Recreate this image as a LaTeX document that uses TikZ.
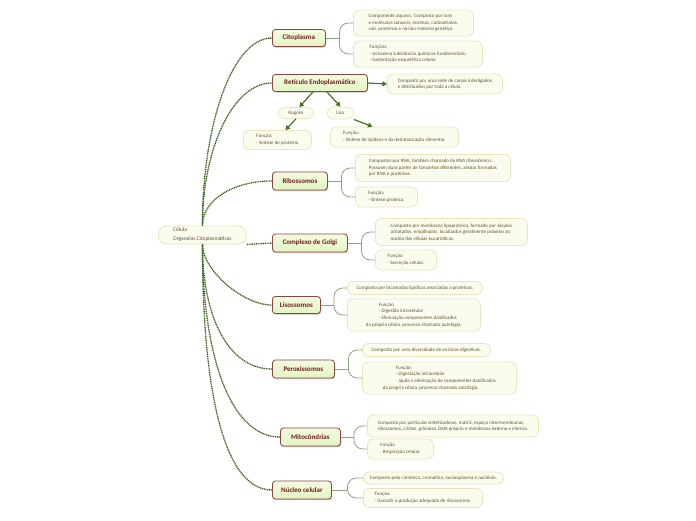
\documentclass[tikz,border=0pt]{standalone}
\usepackage{fontspec}
\setmainfont{Carlito}
\usetikzlibrary{positioning, calc, shadows, arrows.meta}
\definecolor{orgborder}{RGB}{140, 70, 70}
\definecolor{orgtext}{RGB}{115, 28, 28}
\definecolor{orgtop}{RGB}{244, 252, 224}
\definecolor{orgbot}{RGB}{226, 244, 196}
\definecolor{orgshadow}{RGB}{190, 160, 150}
\definecolor{leafborder}{RGB}{238, 228, 188}
\definecolor{leaffill}{RGB}{250, 253, 238}
\definecolor{leaftext}{RGB}{95, 80, 48}
\definecolor{trunkgreen}{RGB}{58, 95, 26}
\definecolor{branchgreen}{RGB}{140, 165, 125}
\definecolor{arrowgreen}{RGB}{70, 115, 35}

\tikzset{
  orgbox/.style={draw=orgborder, line width=0.8pt, rounded corners=3pt,
    top color=orgtop, bottom color=orgbot, text=orgtext, anchor=west,
    font=\fontsize{7}{8}\selectfont\bfseries, inner sep=2pt,
    drop shadow={shadow xshift=0.8pt, shadow yshift=-1pt, fill=orgshadow, opacity=0.7}},
  leafbox/.style={draw=leafborder, line width=0.8pt, fill=leaffill, rounded corners=6pt,
    text=leaftext, align=left, anchor=west, inner sep=2pt,
    font=\fontsize{5}{6.6}\selectfont},
  rootbox/.style={leafbox, rounded corners=8pt, font=\fontsize{5.5}{9}\selectfont},
  trunk/.style={draw=trunkgreen, line width=1.3pt, dash pattern=on 1.1pt off 0.7pt},
  branch/.style={draw=branchgreen, line width=0.8pt, rounded corners=9pt},
  arr/.style={draw=arrowgreen, line width=1.2pt, -{Triangle[length=4.5pt,width=5pt]}}
}

\begin{document}
\begin{tikzpicture}[x=1pt, y=-1pt]
\useasboundingbox (0,0) rectangle (696,520);

% centro
\node[rootbox, minimum width=88, minimum height=18] (root) at (158,235)
  {Célula\\Organelas Citoplasmáticas};

% organelas
\node[orgbox, minimum width=53, minimum height=17] (cito) at (272,38) {Citoplasma};
\node[orgbox, minimum width=95, minimum height=17] (ret) at (272,83) {Retículo Endoplasmático};
\node[orgbox, minimum width=55, minimum height=18] (ribo) at (272,181) {Ribossomos};
\node[orgbox, minimum width=75, minimum height=18] (golgi) at (272,243) {Complexo de Golgi};
\node[orgbox, minimum width=48, minimum height=17] (liso) at (272,305) {Lisossomos};
\node[orgbox, minimum width=62, minimum height=18] (perox) at (272,369) {Peroxissomos};
\node[orgbox, minimum width=60, minimum height=18] (mito) at (280,437) {Mitocôndrias};
\node[orgbox, minimum width=59, minimum height=18] (nucleo) at (272,490) {Núcleo celular};

% folhas
\node[leafbox, minimum width=120, minimum height=26] (cito1) at (353,23)
  {Componente aquoso. Composto por íons\\e moléculas solúveis; enzimas, carboidratos,\\sais, proteínas e núcleo material genético.};
\node[leafbox, minimum width=129, minimum height=26] (cito2) at (353,54)
  {Funções;\\- armazena substâncias químicas fundamentais;\\- Sustentação esquelética celular.};

\node[leafbox, minimum width=115, minimum height=20] (ret1) at (387,84)
  {Composto por uma rede de canais interligados\\e distribuídos por toda a célula.};
\node[leafbox, minimum width=35, minimum height=11] (rug) at (278,113) {Rugoso};
\node[leafbox, minimum width=26, minimum height=12] (lis) at (327,113) {Liso};
\node[leafbox, minimum width=68, minimum height=19] (rug1) at (243,140)
  {Função;\\- Síntese de proteína};
\node[leafbox, minimum width=128, minimum height=20] (lis1) at (330,137)
  {Função;\\- Síntese de lipídeos e da desintoxicação alimentar.};

\node[leafbox, minimum width=155, minimum height=27] (ribo1) at (355,168)
  {Compostos por RNA, também chamado de RNA ribossômico.\\Possuem duas partes de tamanhos diferentes, ambas formadas\\por RNA e proteínas.};
\node[leafbox, minimum width=62, minimum height=20] (ribo2) at (355,197)
  {Função;\\- Síntese proteica.};

\node[leafbox, minimum width=152, minimum height=27] (golgi1) at (375,232)
  {Composto por membrana lipoproteica, formado por sáculos\\achatados, empilhados, localizados geralmente próximo ao\\núcleo das células eucarióticas.};
\node[leafbox, minimum width=61, minimum height=20] (golgi2) at (375,260)
  {Função:\\- Secreção celular.};

\node[leafbox, minimum width=135, minimum height=13] (liso1) at (347,288)
  {Composto por bicamadas lipídicas associadas a proteínas.};
\node[leafbox, minimum width=133, minimum height=32] (liso2) at (347,315)
  {\hspace*{13pt}Função\\\hspace*{13pt}- Digestão intracelular\\\hspace*{13pt}- Eliminação componentes danificados\\da própria célula, processo chamado autofagia.};

\node[leafbox, minimum width=128, minimum height=13] (perox1) at (362,350)
  {Composto por uma diversidade de enzimas digestivas.};
\node[leafbox, minimum width=154, minimum height=32] (perox2) at (362,378)
  {\hspace*{13pt}Função:\\\hspace*{13pt}- Digestação intracelular\\\hspace*{13pt}- ajuda a eliminação de componentes danificados\\da própria célula, processo chamado autofagia.};

\node[leafbox, minimum width=171, minimum height=22] (mito1) at (367,426)
  {Composta por partículas sintetizadoras, matriz, espaço intermembranas,\\ribossomos, cristas, grânulos, DNA próprio e membrana externa e interna.};
\node[leafbox, minimum width=66, minimum height=20] (mito2) at (367,449)
  {Função\\- Respiração celular.};

\node[leafbox, minimum width=140, minimum height=12] (nuc1) at (363,478)
  {Composto pela carioteca, cromatina, nucleoplasma e nucléolo.};
\node[leafbox, minimum width=119, minimum height=19] (nuc2) at (363,498)
  {Função:\\- Garantir a produção adequada de ribossomos.};

% ligacoes do centro
\foreach \n/\a/\b in {cito/-100/-40, ret/-75/-40, ribo/-25/-40}
  \draw[trunk] (root.north) .. controls +(0,\a) and +(\b,0) .. (\n.west);
\foreach \n/\a/\b in {liso/25/-30, perox/70/-45, mito/110/-50, nucleo/140/-50}
  \draw[trunk] (root.south) .. controls +(0,\a) and +(\b,0) .. (\n.west);
\draw[trunk] (root.south east) -- (golgi.west);

% ramos
\foreach \m/\a/\b in {cito/cito1/cito2, ribo/ribo1/ribo2, golgi/golgi1/golgi2,
    liso/liso1/liso2, perox/perox1/perox2, mito/mito1/mito2, nucleo/nuc1/nuc2} {
  \draw[branch] (\m.east) -- ($(\m.east)!0.5!(\a.west |- \m.east)$) coordinate (j);
  \draw[branch] (j) |- (\a.west);
  \draw[branch] (j) |- (\b.west);
}

% setas do reticulo
\draw[arr] (ret.east) -- (ret1.west);
\draw[arr] ($(ret.south)+(-7,0)$) -- (rug.60);
\draw[arr] ($(ret.south)+(7,0)$) -- (lis.north);
\draw[arr] (rug.south) -- ($(rug1.north)+(8,0)$);
\draw[arr] (lis.south east) -- ($(lis1.north)+(-22,0)$);
\end{tikzpicture}
\end{document}
